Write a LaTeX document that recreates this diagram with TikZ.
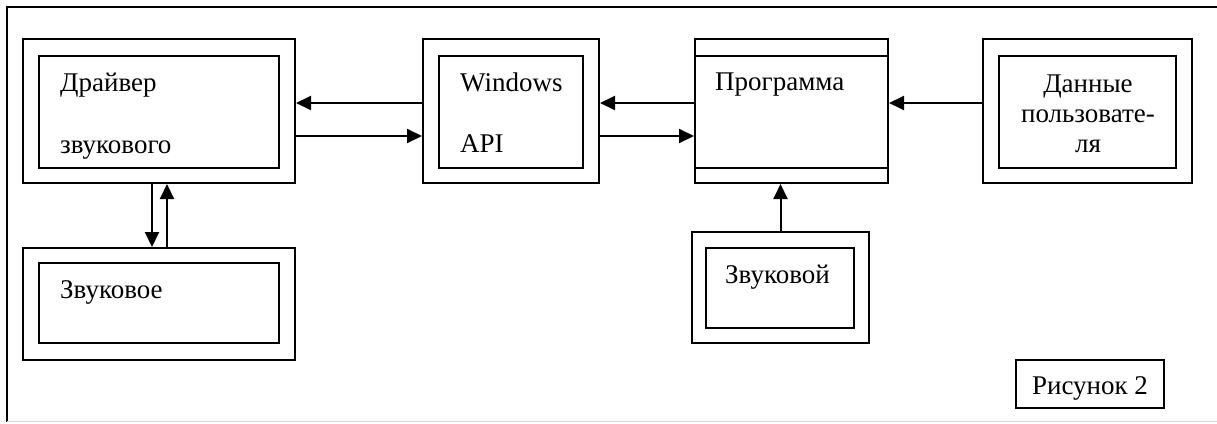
\documentclass[tikz,border=0pt]{standalone}
\usepackage{fontspec}
\setmainfont{Liberation Serif}
\usetikzlibrary{arrows.meta}
\begin{document}
\begin{tikzpicture}[x=1pt,y=-1pt,
  every node/.style={inner sep=0pt},
  boxline/.style={draw, line width=2pt, rectangle},
  label/.style={font=\fontsize{27}{30}\selectfont},
  arr/.style={line width=2pt, -{Triangle[length=15pt,width=14pt]}}]
\useasboundingbox (0,0) rectangle (1217,423);
% frame
\draw[line width=2pt] (7,422) -- (7,7) -- (1217,7);
\draw[line width=1.5pt, gray!30] (7,421.5) -- (1217,421.5);

% driver
\node[boxline, minimum width=272pt, minimum height=144pt] (drvO) at (159,111) {};
\node[boxline, minimum width=240pt, minimum height=112pt] (drvI) at (159,112) {};
\node[label, anchor=base west] (drvT1) at (60,91) {Драйвер};
\node[label, anchor=base west] (drvT2) at (60,153) {звукового};

% Windows API
\node[boxline, minimum width=176pt, minimum height=144pt] (apiO) at (511,111) {};
\node[boxline, minimum width=144pt, minimum height=112pt] (apiI) at (511,112) {};
\node[label, anchor=base west] (apiT1) at (460,91) {Windows};
\node[label, anchor=base west] (apiT2) at (460,152) {API};

% program
\node[boxline, minimum width=193pt, minimum height=144pt] (prgO) at (791.5,111) {};
\draw[line width=2pt] (prgO.west |- 0,56) -- (prgO.east |- 0,56);
\draw[line width=2pt] (prgO.west |- 0,168) -- (prgO.east |- 0,168);
\node[label, anchor=base west] (prgT) at (715,90) {Программа};

% user data
\node[boxline, minimum width=209pt, minimum height=144pt] (datO) at (1087.5,111) {};
\node[boxline, minimum width=177pt, minimum height=112pt] (datI) at (1087.5,112) {};
\node[label, anchor=base] (datT1) at (1088,92) {Данные};
\node[label, anchor=base] (datT2) at (1088,122) {пользовате-};
\node[label, anchor=base] (datT3) at (1088,152) {ля};

% sound device
\node[boxline, minimum width=272pt, minimum height=112pt] (sndO) at (159,304) {};
\node[boxline, minimum width=240pt, minimum height=80pt] (sndI) at (159,303) {};
\node[label, anchor=base west] (sndT) at (60,298) {Звуковое};

% sound card
\node[boxline, minimum width=177pt, minimum height=111pt] (crdO) at (780.5,287.5) {};
\node[boxline, minimum width=148pt, minimum height=80pt] (crdI) at (780,288) {};
\node[label, anchor=base west] (crdT) at (725,283) {Звуковой};

% caption
\node[boxline, line width=1.5pt, minimum width=148pt, minimum height=48pt] (fig) at (1090,384) {};
\node[label, anchor=base] (figT) at (1090,394) {Рисунок 2};

% connectors
\draw[arr] ([yshift=8pt]apiO.west) -- ([yshift=8pt]drvO.east);
\draw[arr] ([yshift=-25pt]drvO.east) -- ([yshift=-25pt]apiO.west);
\draw[arr] ([yshift=8pt]prgO.west) -- ([yshift=8pt]apiO.east);
\draw[arr] ([yshift=-25pt]apiO.east) -- ([yshift=-25pt]prgO.west);
\draw[arr] ([yshift=8pt]datO.west) -- ([yshift=8pt]prgO.east);
\draw[arr] ([xshift=-7pt]drvO.south) -- ([xshift=-7pt]sndO.north);
\draw[arr] ([xshift=8pt]sndO.north) -- ([xshift=8pt]drvO.south);
\draw[arr] (crdO.north) -- (crdO.north |- prgO.south);
\end{tikzpicture}
\end{document}
